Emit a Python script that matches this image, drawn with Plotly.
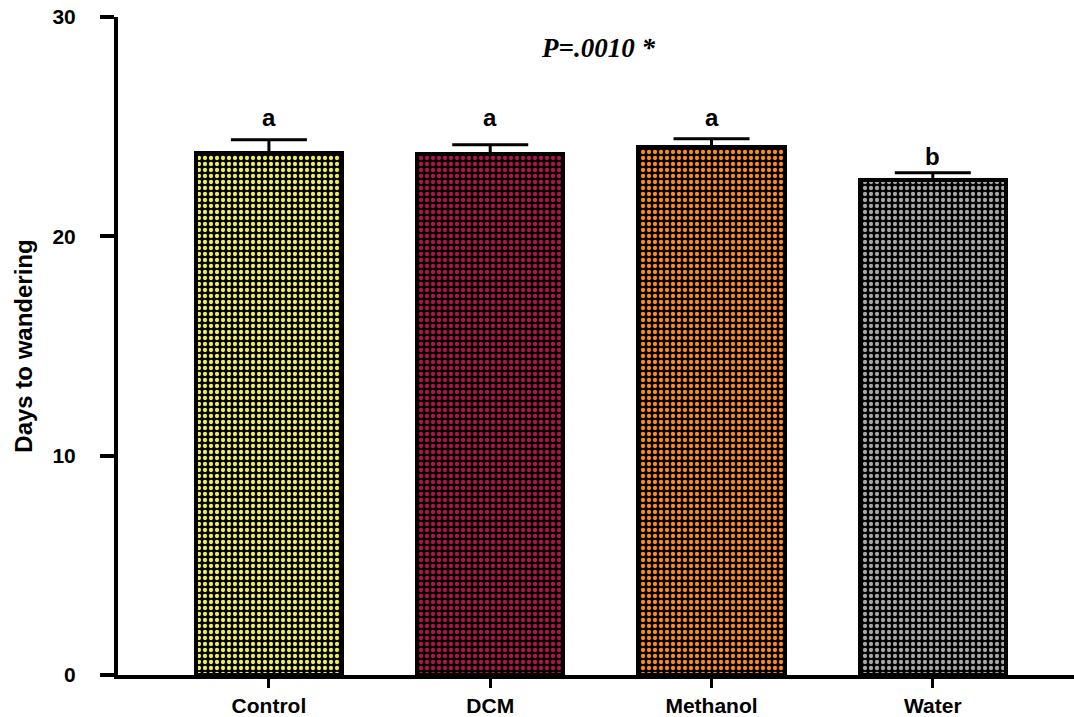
import plotly.graph_objects as go

# Days to wandering per treatment (mean + upper error)
groups = ["Control", "DCM", "Methanol", "Water"]
days_mean = [23.82, 23.77, 24.09, 22.55]
days_err = [0.58, 0.41, 0.36, 0.35]
sig_letters = ["a", "a", "a", "b"]
letter_y = [25.41, 25.41, 25.41, 23.64]
bar_colors = ["#eeee50", "#b8104e", "#ff8c10", "#a8a8a8"]
y_ticks = [0, 10, 20, 30]

fig = go.Figure()
fig.add_trace(go.Bar(
    x=list(range(len(groups))),
    y=days_mean,
    width=0.66,
    marker=dict(
        color="black",
        line=dict(color="black", width=4),
        pattern=dict(shape=".", fgcolor=bar_colors, fgopacity=1,
                     size=6, solidity=0.4, fillmode="overlay"),
    ),
    error_y=dict(type="data", symmetric=False, array=days_err,
                 arrayminus=[0] * len(groups), color="black",
                 thickness=3, width=38),
    showlegend=False,
))

for i, (lab, ly) in enumerate(zip(sig_letters, letter_y)):
    fig.add_annotation(x=i, y=ly, text=lab, showarrow=False,
                       font=dict(family="Liberation Sans", size=24, color="black",
                                 weight="bold"))

fig.add_annotation(x=1.487, y=28.6, text="<b><i>P=.0010 *</i></b>", showarrow=False,
                   font=dict(family="Liberation Serif", size=27, color="black"))

fig.update_layout(
    width=1074, height=717,
    margin=dict(l=118, r=0, t=17, b=40),
    plot_bgcolor="white", paper_bgcolor="white",
    bargap=0,
    xaxis=dict(
        range=[-0.682, 3.638],
        tickmode="array", tickvals=list(range(len(groups))), ticktext=groups,
        ticks="outside", ticklen=9, tickwidth=3, tickcolor="black",
        showline=True, linecolor="black", linewidth=4,
        showgrid=False, zeroline=False,
        tickfont=dict(family="Liberation Sans", size=21, color="black", weight="bold"),
    ),
    yaxis=dict(
        range=[0, 30],
        tickmode="array", tickvals=y_ticks,
        ticks="outside", ticklen=14, tickwidth=4, tickcolor="black",
        ticklabelstandoff=20,
        showline=True, linecolor="black", linewidth=4,
        showgrid=False, zeroline=False,
        tickfont=dict(family="Liberation Sans", size=21, color="black", weight="bold"),
        title=dict(text="Days to wandering", standoff=14,
                   font=dict(family="Liberation Sans", size=24, color="black",
                             weight="bold")),
    ),
)

fig.write_html("out.html")
